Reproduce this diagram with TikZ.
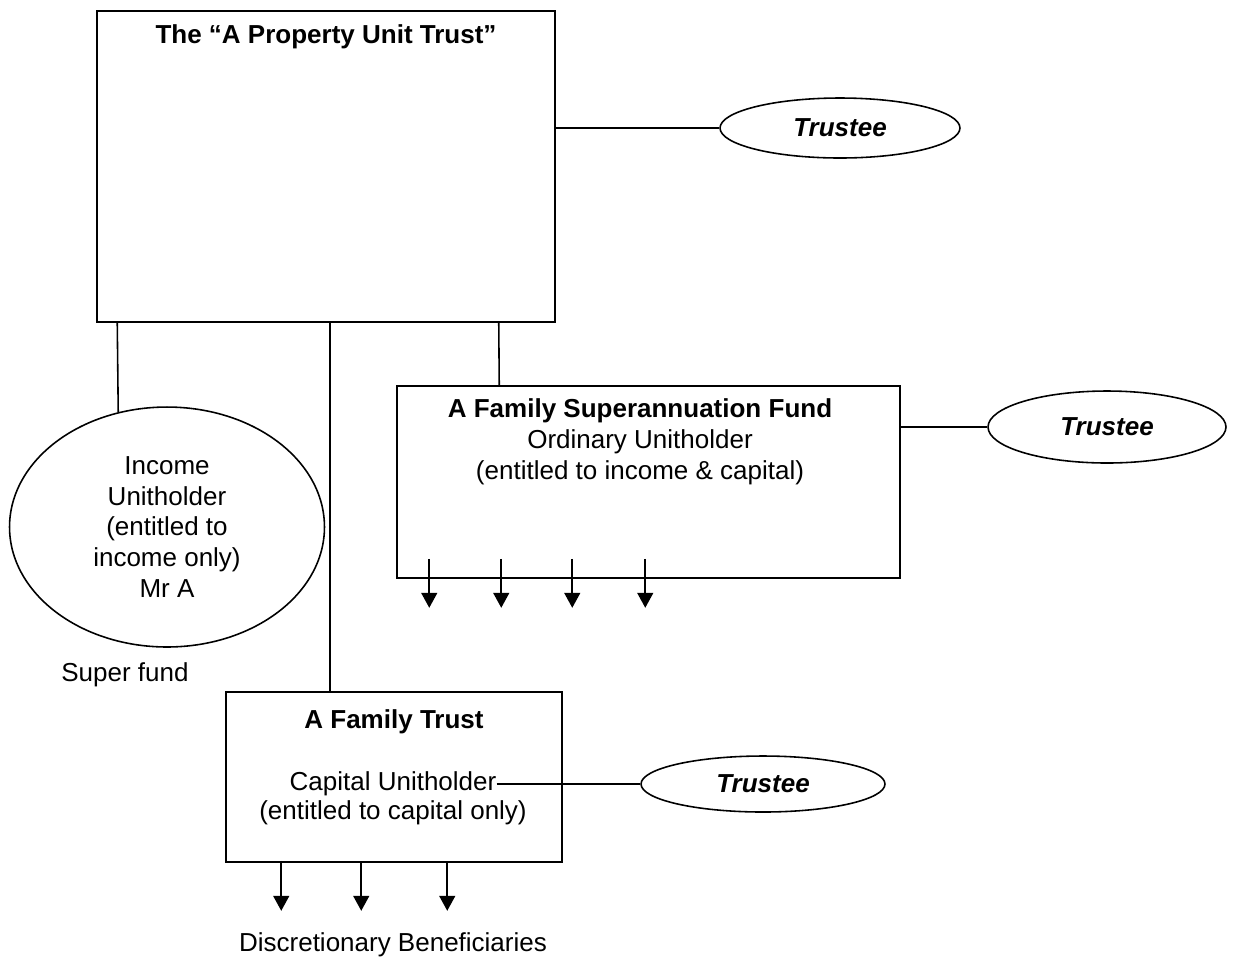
\documentclass[tikz,border=0pt]{standalone}
\usepackage{fontspec}
\setmainfont{Liberation Sans}
\usetikzlibrary{shapes.geometric,arrows.meta}
\begin{document}
\begin{tikzpicture}[x=0.02cm,y=-0.02cm,
  every node/.style={font=\fontsize{14.8}{17.6}\selectfont},
  box/.style={draw,line width=0.9pt,rectangle,inner sep=0pt},
  oval/.style={draw,line width=0.9pt,ellipse,inner sep=0pt},
  txt/.style={inner sep=0pt,align=center},
  link/.style={line width=0.9pt},
  arr/.style={line width=0.9pt,-{Triangle[length=0.3cm,width=0.32cm]}}]
\useasboundingbox (0,0) rectangle (1236,965);

% boxes and ellipses
\node[box,minimum width=9.16cm,minimum height=6.22cm] (main) at (326,166.5) {};
\node[txt,font=\fontsize{14.8}{17.6}\selectfont\bfseries] (maintitle) at (326,37) {The “A Property Unit Trust”};

\node[oval,minimum width=4.8cm,minimum height=1.2cm,font=\fontsize{14.8}{17.6}\selectfont\bfseries\itshape] (tr1) at (840,128) {Trustee};

\node[oval,minimum width=6.3cm,minimum height=4.8cm] (inc) at (167,527) {};
\node[txt] (inctext) at (167,527) {Income\\Unitholder\\(entitled to\\income only)\\Mr A};

\node[box,minimum width=10.06cm,minimum height=3.84cm] (fsf) at (648.5,482) {};
\node[txt] (fsftext) at (640,442) {\textbf{A Family Superannuation Fund}\\Ordinary Unitholder\\(entitled to income \& capital)};

\node[oval,minimum width=4.76cm,minimum height=1.44cm,font=\fontsize{14.8}{17.6}\selectfont\bfseries\itshape] (tr2) at (1107,427) {Trustee};

\node[txt] (super) at (125,675) {Super fund};

\node[box,minimum width=6.72cm,minimum height=3.4cm] (ft) at (394,777) {};
\node[txt,font=\fontsize{14.8}{17.6}\selectfont\bfseries] (fttitle) at (394,722) {A Family Trust};
\node[txt] (cap) at (393,784) {Capital Unitholder};
\node[txt] (capsub) at (393,813) {(entitled to capital only)};

\node[oval,minimum width=4.88cm,minimum height=1.12cm,font=\fontsize{14.8}{17.6}\selectfont\bfseries\itshape] (tr3) at (763,784) {Trustee};

\node[txt] (disc) at (393,945) {Discretionary Beneficiaries};

% connectors
\draw[link] (tr1.west -| main.east) -- (tr1.west);
\draw[link] ([xshift=0.42cm]main.south west) -- (inc.113);
\draw[link] ([xshift=0.08cm]main.south) -- ([xshift=0.08cm]main.south |- ft.north);
\draw[link] ([xshift=-1.14cm]main.south east) -- ([xshift=2.06cm]fsf.north west);
\draw[link] (tr2.west -| fsf.east) -- (tr2.west);
\draw[link] (cap.east) -- (tr3.west);

% arrows from the superannuation fund
\foreach \dx in {33,105,176,249}
  \draw[arr] (fsf.south west) ++(\dx,-20) -- ++(0,49);

% arrows from the family trust
\draw[arr] (ft.south west) ++(56,-2) -- ++(0,50);
\foreach \dx in {136,222}
  \draw[arr] (ft.south west) ++(\dx,0) -- ++(0,48);
\end{tikzpicture}
\end{document}
